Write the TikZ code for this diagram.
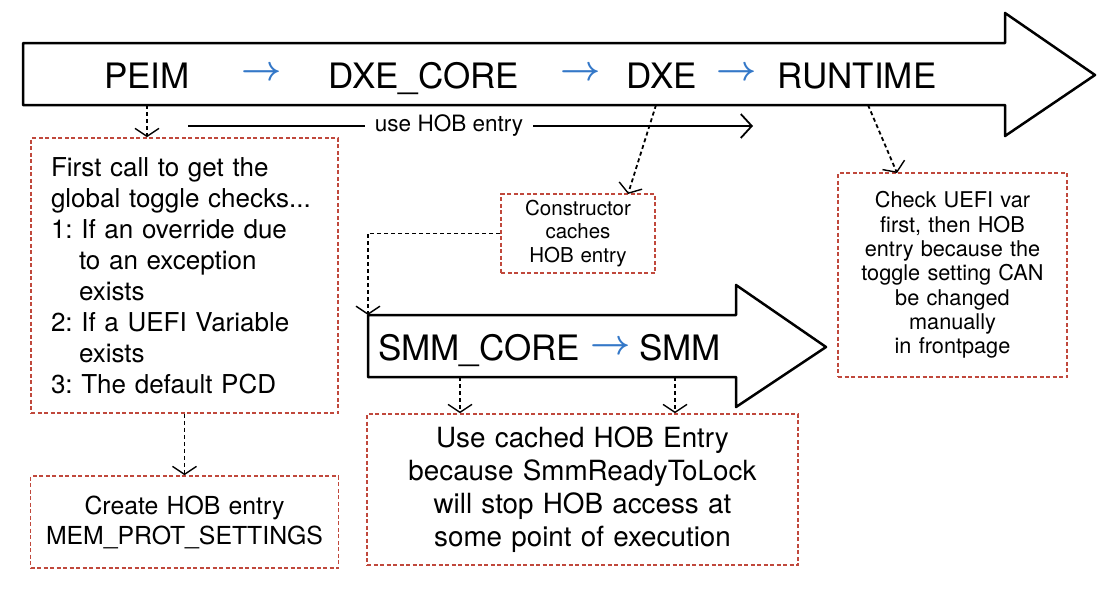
\RequirePackage{fix-cm}
\documentclass[tikz,border=0pt]{standalone}
\usepackage{bm}
\usepackage{fontspec}
\setmainfont{TeX Gyre Heros}
\usetikzlibrary{arrows.meta}
\definecolor{noteRed}{RGB}{192,72,60}
\definecolor{flowBlue}{RGB}{52,120,200}
\frenchspacing

\begin{document}
\begin{tikzpicture}[x=1pt, y=-1pt,
  stage/.style={font=\fontsize{35}{42}\selectfont, inner sep=0pt, anchor=base},
  flow/.style={text=flowBlue, font=\fontsize{35}{42}\selectfont, inner sep=0pt},
  note/.style={draw=noteRed, line width=1.6pt, dash pattern=on 4pt off 2.5pt, inner sep=0pt, align=center},
  link/.style={line width=1.8pt, dash pattern=on 4pt off 3pt, -{Straight Barb[length=8pt,width=24pt,line width=1.4pt]}},
  hobline/.style={line width=1.8pt, -{Straight Barb[length=11pt,width=24pt]}},
  lane/.style={line width=2.5pt, line join=round}]
\useasboundingbox (0, 0) rectangle (1099, 592);

\draw[lane] (23, 43) -- (1005, 43) -- (1005, 13) -- (1095, 75) -- (1005, 136) -- (1005, 105) -- (23, 105) -- cycle;
\draw[lane] (368, 315) -- (736, 315) -- (736, 285) -- (826, 347) -- (736, 407) -- (736, 377) -- (368, 377) -- cycle;

\node[stage] (peim) at (147, 88) {PEIM};
\node[flow] (f1) at (262, 74) {$\bm{\rightarrow}$};
\node[stage] (dxecore) at (424, 88) {DXE\_CORE};
\node[flow] (f2) at (581, 74) {$\bm{\rightarrow}$};
\node[stage] (dxe) at (662, 88) {DXE};
\node[flow] (f3) at (737, 74) {$\bm{\rightarrow}$};
\node[stage] (runtime) at (857, 88) {RUNTIME};

\node[stage] (smmcore) at (479, 360) {SMM\_CORE};
\node[flow] (f4) at (611, 348) {$\bm{\rightarrow}$};
\node[stage] (smm) at (680, 360) {SMM};

\node[note, minimum width=307pt, minimum height=275pt, text width=267pt, align=left, font=\fontsize{26}{31}\selectfont] (firstcall) at (184.5, 275.5) {First call to get the\\ global toggle checks...\\ 1: If an override due\\ \hspace*{28pt}to an exception\\ \hspace*{28pt}exists\\ 2: If a UEFI Variable\\ \hspace*{28pt}exists\\ 3: The default PCD};
\node[note, minimum width=308pt, minimum height=92pt, text width=290pt, font=\fontsize{24.8}{30}\selectfont] (hobentry) at (184.5, 522) {Create HOB entry\\ MEM\_PROT\_SETTINGS};
\node[note, minimum width=154pt, minimum height=79pt, text width=140pt, font=\fontsize{20.5}{23.5}\selectfont] (ctor) at (578, 233.5) {Constructor\\ caches\\ HOB entry};
\node[note, minimum width=229pt, minimum height=204pt, text width=215pt, font=\fontsize{21.7}{24.3}\selectfont] (uefivar) at (952.5, 275) {Check UEFI var\\ first, then HOB\\ entry because the\\ toggle setting CAN\\ be changed\\ manually\\ in frontpage};
\node[note, minimum width=431pt, minimum height=151pt, text width=410pt, font=\fontsize{27.8}{33}\selectfont] (cached) at (582.5, 489.5) {Use cached HOB Entry\\ because SmmReadyToLock\\ will stop HOB access at\\ some point of execution};

\coordinate (peimOut) at (147, 105);
\coordinate (dxeOut) at (656, 105);
\coordinate (ctorIn) at (628, 194);
\coordinate (runtimeOut) at (868, 105);
\coordinate (uefivarIn) at (897, 173);
\coordinate (smmIn) at (368, 315);
\coordinate (smmcoreOut) at (460, 377);
\coordinate (smmOut) at (675, 377);
\coordinate (hobFrom) at (188, 126);
\coordinate (hobTo) at (753, 126);

\draw (peimOut) edge[link] (peimOut |- firstcall.north);
\draw (firstcall) edge[link] (hobentry);
\draw (dxeOut) edge[link] (ctorIn);
\draw (runtimeOut) edge[link] (uefivarIn);
\draw[link] (ctor.west) -| (smmIn);
\draw (smmcoreOut) edge[link] (smmcoreOut |- cached.north);
\draw (smmOut) edge[link] (smmOut |- cached.north);
\draw[hobline] (hobFrom) -- node[pos=0.462, fill=white, inner xsep=10pt, font=\fontsize{22.5}{27}\selectfont] (hoblabel) {use HOB entry} (hobTo);
\end{tikzpicture}
\end{document}
